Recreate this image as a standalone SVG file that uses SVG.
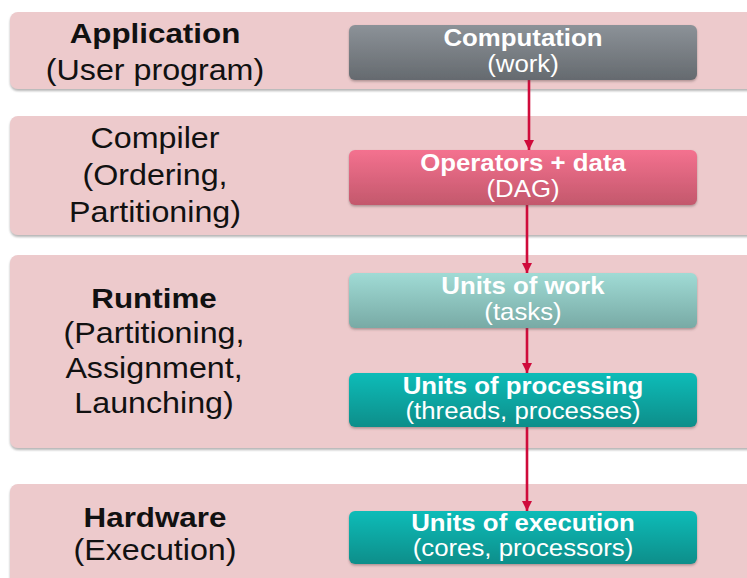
<svg xmlns="http://www.w3.org/2000/svg" width="747" height="578" viewBox="0 0 747 578">
  <defs>
    <linearGradient id="gGray" x1="0" y1="0" x2="0" y2="1">
      <stop offset="0" stop-color="#8c9298"/>
      <stop offset="1" stop-color="#656a6f"/>
    </linearGradient>
    <linearGradient id="gPink" x1="0" y1="0" x2="0" y2="1">
      <stop offset="0" stop-color="#f4718f"/>
      <stop offset="1" stop-color="#c3586c"/>
    </linearGradient>
    <linearGradient id="gMint" x1="0" y1="0" x2="0" y2="1">
      <stop offset="0" stop-color="#a0dbd5"/>
      <stop offset="1" stop-color="#78aaa5"/>
    </linearGradient>
    <linearGradient id="gTeal" x1="0" y1="0" x2="0" y2="1">
      <stop offset="0" stop-color="#0fbcb8"/>
      <stop offset="1" stop-color="#078e8a"/>
    </linearGradient>
    <filter id="bandShadow" x="-5%" y="-10%" width="110%" height="130%">
      <feDropShadow dx="0" dy="2" stdDeviation="1" flood-color="#7a7a7a" flood-opacity="0.55"/>
    </filter>
    <filter id="boxShadow" x="-5%" y="-10%" width="110%" height="130%">
      <feDropShadow dx="0" dy="1.5" stdDeviation="1.2" flood-color="#5a4a4c" flood-opacity="0.45"/>
    </filter>
    <marker id="arrowHead" viewBox="0 0 10 10" refX="10" refY="5" markerWidth="10" markerHeight="10" markerUnits="userSpaceOnUse" orient="auto">
      <path d="M0,0 L10,5 L0,10 z" fill="#cf0b3b"/>
    </marker>
  </defs>
  <style>
    .band { fill: #edcacc; filter: url(#bandShadow); }
    .box { filter: url(#boxShadow); }
    .lbl { font-family: "Liberation Sans", Arial, sans-serif; font-size: 29.3px; fill: #111; text-anchor: middle; }
    .lbl.b { font-weight: bold; font-size: 28.5px; }
    .bt { font-family: "Liberation Sans", Arial, sans-serif; font-size: 24px; fill: #ffffff; text-anchor: middle; }
    .bt.b { font-weight: bold; }
    .conn { stroke: #cf0b3b; stroke-width: 2.6; fill: none; marker-end: url(#arrowHead); }
  </style>

  <rect width="747" height="578" fill="#ffffff"/>

  <!-- layer bands -->
  <g id="band-application">
    <rect class="band" x="10" y="12" width="760" height="77" rx="8"/>
    <g transform="translate(155,0) scale(1.1,1)">
      <text class="lbl b" x="0" y="43">Application</text>
      <text class="lbl" x="0" y="80">(User program)</text>
    </g>
  </g>
  <g id="band-compiler">
    <rect class="band" x="10" y="116" width="760" height="119" rx="8"/>
    <g transform="translate(155,0) scale(1.1,1)">
      <text class="lbl" x="0" y="148">Compiler</text>
      <text class="lbl" x="0" y="185">(Ordering,</text>
      <text class="lbl" x="0" y="222">Partitioning)</text>
    </g>
  </g>
  <g id="band-runtime">
    <rect class="band" x="10" y="255" width="760" height="193" rx="8"/>
    <g transform="translate(154,0) scale(1.1,1)">
      <text class="lbl b" x="0" y="308">Runtime</text>
      <text class="lbl" x="0" y="343">(Partitioning,</text>
      <text class="lbl" x="0" y="378">Assignment,</text>
      <text class="lbl" x="0" y="413">Launching)</text>
    </g>
  </g>
  <g id="band-hardware">
    <rect class="band" x="10" y="484" width="760" height="110" rx="8"/>
    <g transform="translate(155,0) scale(1.1,1)">
      <text class="lbl b" x="0" y="527">Hardware</text>
      <text class="lbl" x="0" y="560">(Execution)</text>
    </g>
  </g>

  <!-- connectors -->
  <g id="connectors">
    <line class="conn" x1="529" y1="80" x2="529" y2="150"/>
    <line class="conn" x1="527" y1="205" x2="527" y2="273"/>
    <line class="conn" x1="527" y1="328" x2="527" y2="373"/>
    <line class="conn" x1="527" y1="427" x2="527" y2="511"/>
  </g>

  <!-- stage boxes -->
  <g id="computation">
    <rect class="box" x="349" y="25" width="348" height="55" rx="6" fill="url(#gGray)"/>
    <g transform="translate(523,0) scale(1.075,1)">
      <text class="bt b" x="0" y="46">Computation</text>
      <text class="bt" x="0" y="72">(work)</text>
    </g>
  </g>
  <g id="operators-data">
    <rect class="box" x="349" y="150" width="348" height="55" rx="6" fill="url(#gPink)"/>
    <g transform="translate(523,0) scale(1.075,1)">
      <text class="bt b" x="0" y="171">Operators + data</text>
      <text class="bt" x="0" y="197">(DAG)</text>
    </g>
  </g>
  <g id="units-of-work">
    <rect class="box" x="349" y="273" width="348" height="55" rx="6" fill="url(#gMint)"/>
    <g transform="translate(523,0) scale(1.075,1)">
      <text class="bt b" x="0" y="294">Units of work</text>
      <text class="bt" x="0" y="320">(tasks)</text>
    </g>
  </g>
  <g id="units-of-processing">
    <rect class="box" x="349" y="373" width="348" height="54" rx="6" fill="url(#gTeal)"/>
    <g transform="translate(523,0) scale(1.075,1)">
      <text class="bt b" x="0" y="394">Units of processing</text>
      <text class="bt" x="0" y="419">(threads, processes)</text>
    </g>
  </g>
  <g id="units-of-execution">
    <rect class="box" x="349" y="511" width="348" height="53" rx="6" fill="url(#gTeal)"/>
    <g transform="translate(523,0) scale(1.075,1)">
      <text class="bt b" x="0" y="531">Units of execution</text>
      <text class="bt" x="0" y="556">(cores, processors)</text>
    </g>
  </g>
</svg>
